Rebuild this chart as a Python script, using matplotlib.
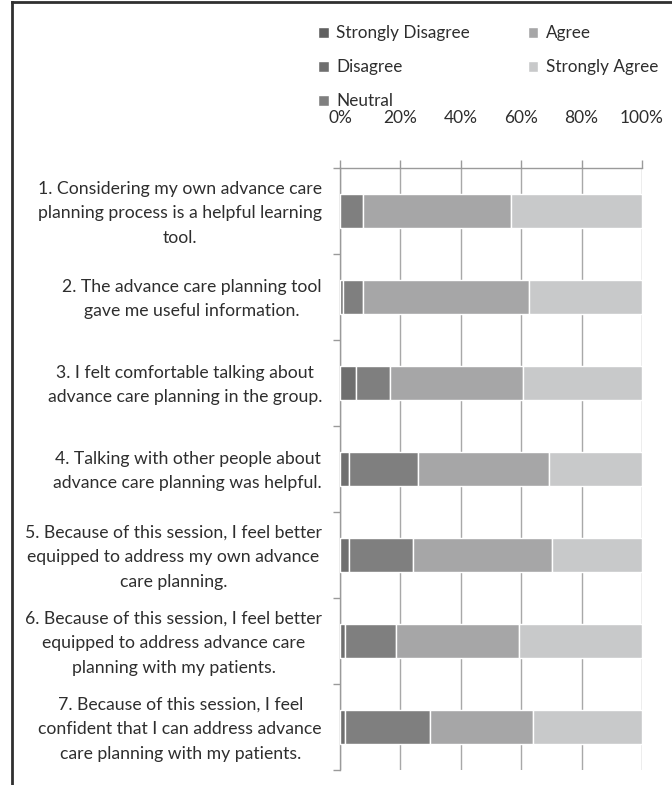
import matplotlib
matplotlib.use("Agg")
import matplotlib.pyplot as plt
import matplotlib.transforms as mtransforms
import numpy as np
from matplotlib.lines import Line2D

plt.rcParams['font.family'] = ['Lato', 'DejaVu Sans']

# respuestas por pregunta (%)
preguntas = [
    "1. Considering my own advance care\nplanning process is a helpful learning\ntool.",
    "2. The advance care planning tool\ngave me useful information.",
    "3. I felt comfortable talking about\nadvance care planning in the group.",
    "4. Talking with other people about\nadvance care planning was helpful.",
    "5. Because of this session, I feel better\nequipped to address my own advance\ncare planning.",
    "6. Because of this session, I feel better\nequipped to address advance care\nplanning with my patients.",
    "7. Because of this session, I feel\nconfident that I can address advance\ncare planning with my patients.",
]
categorias = ["Strongly Disagree", "Disagree", "Neutral", "Agree", "Strongly Agree"]
strongly_disagree = [0, 0, 0, 0, 0, 0, 0]
disagree = [0, 1.0, 5.2, 3.0, 3.0, 1.5, 1.5]
neutral = [7.7, 6.7, 11.2, 22.8, 21.2, 17.1, 28.2]
agree = [49.0, 55.0, 44.1, 43.5, 45.9, 40.6, 34.3]
strongly_agree = [43.3, 37.3, 39.5, 30.7, 29.9, 40.8, 36.0]
colores = ['#606060', '#6f6f6f', '#7f7f7f', '#a6a6a7', '#c8c9ca']
ticks_x = [0, 20, 40, 60, 80, 100]
color_texto = '#2e2e2e'

fig = plt.figure(figsize=(6.72, 7.85), dpi=100)
ax = fig.add_axes([340 / 672, 1 - 770 / 785, 302 / 672, 602 / 785])

y = np.arange(len(preguntas))
izquierda = np.zeros(len(preguntas))
series = [strongly_disagree, disagree, neutral, agree, strongly_agree]
for nombre, valores, color in zip(categorias, series, colores):
    ax.barh(y, valores, left=izquierda, height=0.4, color=color,
            edgecolor='white', linewidth=1, label=nombre, zorder=3)
    izquierda += np.array(valores)

ax.set_xlim(0, 100)
ax.set_ylim(len(preguntas) - 0.5, -0.5)
ax.xaxis.tick_top()
ax.set_xticks(ticks_x)
ax.set_xticklabels([f"{t}%" for t in ticks_x], fontsize=12.5, color=color_texto)
ax.tick_params(axis='x', length=6, color='#9a9a9a', width=1, pad=24)
ax.grid(axis='x', color='#a8a8a8', linewidth=1, zorder=0)

ax.set_yticks(y)
ax.set_yticklabels(preguntas, fontsize=12.7, color=color_texto,
                   multialignment='center', linespacing=1.65)
ax.tick_params(axis='y', which='major', length=0, pad=13)
ax.set_yticks(np.arange(-0.5, len(preguntas)), minor=True)
ax.tick_params(axis='y', which='minor', length=5, color='#9a9a9a', width=1)

# subir un poco las etiquetas
desplazamiento = mtransforms.ScaledTranslation(0, 3.5 / 100, fig.dpi_scale_trans)
for etiqueta in ax.get_yticklabels():
    etiqueta.set_transform(etiqueta.get_transform() + desplazamiento)

for lado in ['right', 'bottom']:
    ax.spines[lado].set_visible(False)
for lado in ['top', 'left']:
    ax.spines[lado].set_color('#9a9a9a')
    ax.spines[lado].set_linewidth(1)

fig.legend(loc='upper left', bbox_to_anchor=(303 / 672, 1 - 10 / 785), ncol=2,
           frameon=False, fontsize=12.3, handlelength=0.6, handleheight=0.6,
           handletextpad=0.45, labelspacing=1.05, columnspacing=3.4,
           labelcolor=color_texto)

# marco negro
fig.add_artist(Line2D([12 / 672, 12 / 672], [0, 1 - 2 / 785], color='#303030',
                      linewidth=2, transform=fig.transFigure))
fig.add_artist(Line2D([12 / 672, 1], [1 - 2 / 785, 1 - 2 / 785], color='#303030',
                      linewidth=2, transform=fig.transFigure))

fig.savefig('out.png', dpi=100)
